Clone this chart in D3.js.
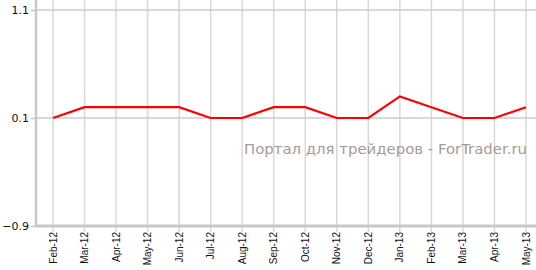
<!DOCTYPE html>
<head>
<meta charset="utf-8">
<script src="https://d3js.org/d3.v7.min.js"></script>
<style>
body { margin: 0; background: #fff; }
svg { display: block; }
</style>
</head>
<body>
<svg></svg>
</body>
<script>
    var months = ["Feb-12", "Mar-12", "Apr-12", "May-12", "Jun-12", "Jul-12", "Aug-12", "Sep-12",
                  "Oct-12", "Nov-12", "Dec-12", "Jan-13", "Feb-13", "Mar-13", "Apr-13", "May-13"];
    var values = [0.1, 0.2, 0.2, 0.2, 0.2, 0.1, 0.1, 0.2, 0.2, 0.1, 0.1, 0.3, 0.2, 0.1, 0.1, 0.2];
    var yTicks = [-0.9, 0.1, 1.1];

    var width = 536, height = 270;
    var plotLeft = 36, plotRight = 536, plotTop = 10, plotBottom = 226;

    var svg = d3.select("svg").attr("width", width).attr("height", height);

    var x = d3.scalePoint().domain(months).range([53, 526]);
    var y = d3.scaleLinear().domain([-0.9, 1.1]).range([plotBottom, plotTop]);

    // vertical grid
    svg.append("g").selectAll("line")
        .data(months)
        .enter().append("line")
        .attr("x1", function(d) { return x(d); })
        .attr("x2", function(d) { return x(d); })
        .attr("y1", 0).attr("y2", plotBottom + 6)
        .style("stroke", "#d8d8d8").style("stroke-width", 1.5);

    // horizontal grid
    svg.append("g").selectAll("line")
        .data(yTicks.slice(1))
        .enter().append("line")
        .attr("x1", plotLeft).attr("x2", plotRight)
        .attr("y1", function(d) { return y(d); })
        .attr("y2", function(d) { return y(d); })
        .style("stroke", "#cccccc").style("stroke-width", 1.5);

    // x axis line
    svg.append("line")
        .attr("x1", plotLeft).attr("x2", plotRight)
        .attr("y1", plotBottom).attr("y2", plotBottom)
        .style("stroke", "#c8c8c8").style("stroke-width", 3);

    // y axis
    var yAxis = svg.append("g")
        .attr("transform", "translate(" + plotLeft + ",0)")
        .call(d3.axisLeft(y).tickValues(yTicks).tickSize(5).tickFormat(d3.format(".1f")));
    yAxis.select(".domain").remove();
    yAxis.selectAll(".tick line").style("stroke", "#c8c8c8").style("stroke-width", 1.5);
    yAxis.selectAll("text")
        .style("font-family", "DejaVu Sans, Verdana")
        .style("font-size", "11px")
        .style("fill", "#111")
        .attr("x", -7);
    svg.append("line")
        .attr("x1", plotLeft).attr("x2", plotLeft)
        .attr("y1", 0).attr("y2", plotBottom + 1)
        .style("stroke", "#c8c8c8").style("stroke-width", 2.5);

    // x labels
    svg.append("g").selectAll("text")
        .data(months)
        .enter().append("text")
        .attr("transform", function(d) { return "translate(" + (x(d) + 3.5) + "," + (plotBottom + 6) + ")rotate(-90)"; })
        .style("text-anchor", "end")
        .style("font-family", "Liberation Sans, Arial")
        .style("font-size", "10px")
        .style("fill", "#111")
        .text(function(d) { return d; });

    // watermark
    svg.append("text")
        .attr("x", 527).attr("y", 154)
        .style("text-anchor", "end")
        .style("font-family", "DejaVu Sans")
        .style("font-size", "14.9px")
        .style("fill", "#a89996")
        .text("Портал для трейдеров - ForTrader.ru");

    // line
    var line = d3.line()
        .x(function(d, i) { return x(months[i]); })
        .y(function(d) { return y(d); });

    svg.append("path")
        .datum(values)
        .attr("d", line)
        .style("fill", "none")
        .style("stroke", "#ff0000")
        .style("stroke-width", 2.2);
</script>
